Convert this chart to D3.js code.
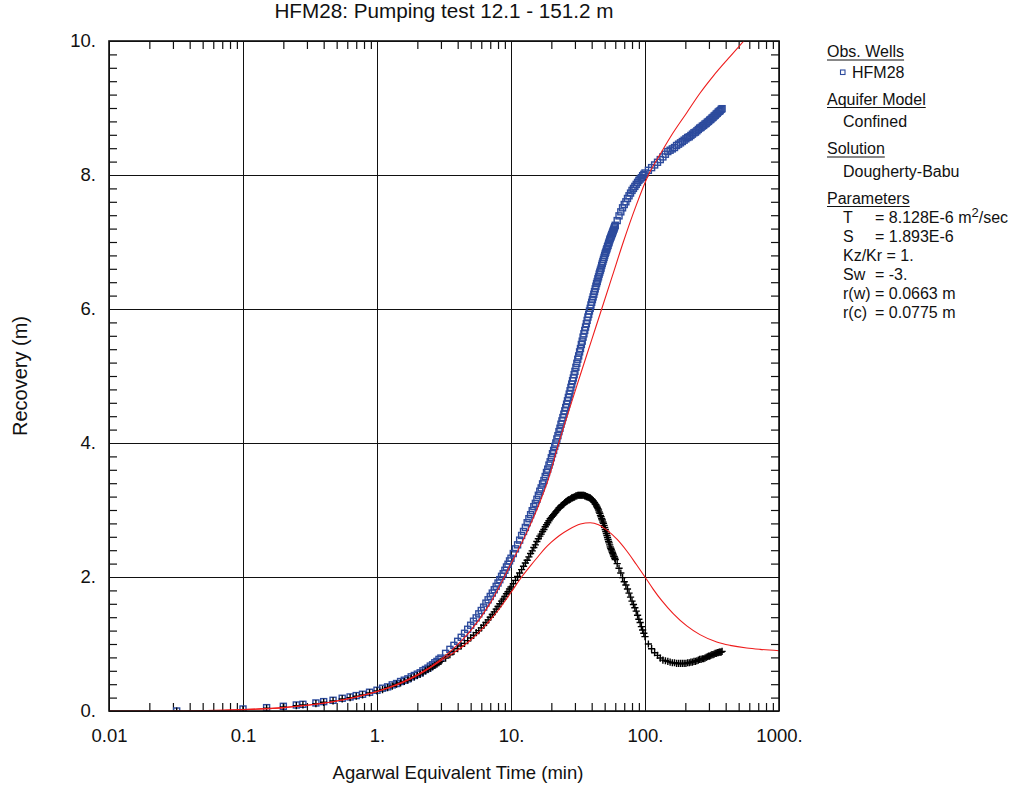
<!DOCTYPE html>
<html>
<head>
<meta charset="utf-8">
<script src="https://cdn.jsdelivr.net/npm/d3@7"></script>
<style>
  body { margin: 0; background: #fff; }
  svg { font-family: Arial, "Liberation Sans", sans-serif; }
</style>
</head>
<body>
<script>
// ---- data ----
// Agarwal equivalent time (min) of the observations
var obsTime = [0.032, 0.1, 0.15, 0.2, 0.25, 0.28, 0.35, 0.4, 0.47, 0.55, 0.63, 0.7, 0.78, 0.88,
  1.0, 1.1, 1.2, 1.3, 1.4, 1.5, 1.6, 1.7, 1.8, 1.9, 2.0, 2.1, 2.2, 2.3, 2.4, 2.5, 2.6, 2.7, 2.8, 2.9, 3.0,
  3.25, 3.5, 3.75, 4, 4.25, 4.5, 4.75, 5, 5.25, 5.5, 5.75, 6, 6.25, 6.5, 6.75, 7, 7.25, 7.5, 7.75, 8, 8.25, 8.5, 8.75, 9, 9.25, 9.5, 9.75, 10,
  10.4, 10.8, 11.2, 11.6, 12, 12.4, 12.8, 13.2, 13.6, 14, 14.4, 14.8, 15.2, 15.6, 16, 16.4, 16.8, 17.2, 17.6, 18, 18.4, 18.8, 19.2, 19.6, 20,
  20.4, 20.8, 21.2, 21.6, 22, 22.4, 22.8, 23.2, 23.6, 24, 24.4, 24.8, 25.2, 25.6, 26, 26.4, 26.8, 27.2, 27.6, 28, 28.4, 28.8, 29.2, 29.6, 30,
  30.5, 31, 31.5, 32, 32.5, 33, 33.5, 34, 34.5, 35, 35.5, 36, 36.5, 37, 37.5, 38, 38.5, 39, 39.5, 40,
  40.5, 41, 41.5, 42, 42.5, 43, 43.5, 44, 44.5, 45, 45.5, 46, 46.5, 47, 47.5, 48, 48.5, 49, 49.5, 50,
  50.5, 51, 51.5, 52, 52.5, 53, 53.5, 54, 54.5, 55, 55.5, 56, 56.5, 57, 57.5, 58, 58.5, 59, 59.5, 60,
  62, 64, 66, 68, 70, 72, 74, 76, 78, 80, 82, 84, 86, 88, 90, 92, 94, 96, 98, 100,
  106, 112, 118, 124, 130, 136, 142, 148, 154, 160, 166, 172, 178, 184, 190, 196, 202, 208, 214, 220, 226, 232, 238, 244, 250,
  256, 262, 268, 274, 280, 286, 292, 298, 304, 310, 316, 322, 328, 334, 340, 346, 352, 358, 364, 370, 376];

// HFM28 recovery (m) - blue squares
var hfm28Recovery = [0.00, 0.03, 0.05, 0.07, 0.09, 0.10, 0.12, 0.14, 0.16, 0.19, 0.21, 0.23, 0.25, 0.28,
  0.31, 0.34, 0.36, 0.39, 0.41, 0.44, 0.46, 0.48, 0.51, 0.53, 0.55, 0.57, 0.60, 0.62, 0.64, 0.67, 0.69, 0.72, 0.74, 0.77, 0.79,
  0.86, 0.92, 0.98, 1.04, 1.10, 1.16, 1.22, 1.28, 1.34, 1.39, 1.45, 1.50, 1.55, 1.61, 1.66, 1.71, 1.76, 1.81, 1.86, 1.91, 1.96, 2.01, 2.05, 2.10, 2.15, 2.19, 2.24, 2.28,
  2.35, 2.42, 2.48, 2.55, 2.62, 2.68, 2.74, 2.81, 2.87, 2.93, 2.99, 3.05, 3.10, 3.16, 3.22, 3.28, 3.33, 3.39, 3.44, 3.50, 3.56, 3.61, 3.67, 3.72, 3.78,
  3.84, 3.89, 3.95, 4.00, 4.06, 4.11, 4.17, 4.22, 4.28, 4.33, 4.38, 4.43, 4.48, 4.53, 4.58, 4.63, 4.68, 4.73, 4.78, 4.83, 4.88, 4.93, 4.97, 5.02, 5.07,
  5.13, 5.19, 5.25, 5.30, 5.36, 5.41, 5.47, 5.52, 5.58, 5.63, 5.68, 5.73, 5.78, 5.83, 5.88, 5.92, 5.97, 6.01, 6.06, 6.10,
  6.14, 6.18, 6.22, 6.26, 6.30, 6.34, 6.38, 6.41, 6.45, 6.48, 6.52, 6.55, 6.58, 6.61, 6.65, 6.68, 6.71, 6.74, 6.77, 6.80,
  6.83, 6.85, 6.88, 6.90, 6.93, 6.95, 6.98, 7.00, 7.03, 7.05, 7.07, 7.09, 7.11, 7.13, 7.15, 7.17, 7.19, 7.21, 7.23, 7.25,
  7.32, 7.39, 7.45, 7.51, 7.56, 7.60, 7.65, 7.69, 7.73, 7.77, 7.80, 7.83, 7.86, 7.89, 7.92, 7.94, 7.96, 7.99, 8.01, 8.03,
  8.07, 8.11, 8.15, 8.19, 8.23, 8.27, 8.31, 8.35, 8.37, 8.39, 8.41, 8.44, 8.46, 8.48, 8.50, 8.52, 8.54, 8.56, 8.57, 8.59, 8.61, 8.63, 8.64, 8.66, 8.68,
  8.70, 8.71, 8.73, 8.74, 8.76, 8.77, 8.79, 8.80, 8.82, 8.83, 8.85, 8.86, 8.88, 8.89, 8.91, 8.92, 8.94, 8.95, 8.96, 8.98, 8.99];

// derivative of the recovery - black crosses
var hfm28Deriv = [0.00, 0.02, 0.04, 0.06, 0.08, 0.09, 0.11, 0.13, 0.15, 0.18, 0.20, 0.22, 0.24, 0.27,
  0.30, 0.32, 0.35, 0.37, 0.40, 0.42, 0.44, 0.46, 0.49, 0.51, 0.53, 0.55, 0.57, 0.60, 0.62, 0.64, 0.66, 0.68, 0.70, 0.72, 0.74,
  0.79, 0.84, 0.89, 0.93, 0.97, 1.01, 1.05, 1.09, 1.13, 1.17, 1.20, 1.24, 1.28, 1.32, 1.36, 1.40, 1.44, 1.48, 1.52, 1.56, 1.60, 1.64, 1.67, 1.71, 1.75, 1.78, 1.82, 1.85,
  1.90, 1.95, 2.01, 2.06, 2.11, 2.16, 2.21, 2.25, 2.30, 2.35, 2.39, 2.44, 2.48, 2.53, 2.57, 2.61, 2.64, 2.68, 2.71, 2.75, 2.78, 2.81, 2.84, 2.87, 2.89,
  2.91, 2.93, 2.95, 2.97, 2.99, 3.01, 3.03, 3.04, 3.06, 3.07, 3.08, 3.09, 3.11, 3.12, 3.13, 3.14, 3.15, 3.15, 3.16, 3.17, 3.18, 3.18, 3.19, 3.19, 3.20,
  3.21, 3.21, 3.22, 3.22, 3.22, 3.22, 3.22, 3.22, 3.22, 3.22, 3.21, 3.21, 3.20, 3.20, 3.19, 3.19, 3.18, 3.18, 3.17, 3.16,
  3.15, 3.14, 3.12, 3.11, 3.09, 3.08, 3.06, 3.04, 3.02, 3.00, 2.97, 2.95, 2.92, 2.90, 2.87, 2.85, 2.82, 2.80, 2.77, 2.74,
  2.71, 2.68, 2.65, 2.62, 2.59, 2.56, 2.53, 2.51, 2.48, 2.45, 2.43, 2.41, 2.39, 2.37, 2.35, 2.33, 2.31, 2.30, 2.28, 2.26,
  2.20, 2.13, 2.06, 1.99, 1.93, 1.88, 1.82, 1.76, 1.70, 1.64, 1.59, 1.54, 1.49, 1.43, 1.37, 1.32, 1.26, 1.21, 1.16, 1.11,
  1.00, 0.93, 0.87, 0.83, 0.79, 0.76, 0.75, 0.74, 0.73, 0.72, 0.72, 0.71, 0.71, 0.71, 0.71, 0.71, 0.71, 0.72, 0.72, 0.73, 0.73, 0.74, 0.74, 0.75, 0.76,
  0.77, 0.77, 0.78, 0.78, 0.79, 0.80, 0.81, 0.82, 0.82, 0.83, 0.84, 0.84, 0.85, 0.86, 0.86, 0.87, 0.87, 0.88, 0.88, 0.88, 0.89];

// Dougherty-Babu model curve (recovery)
var modelTime = [0.01, 0.03, 0.05, 0.07, 0.1, 0.15, 0.2, 0.3, 0.5, 0.7, 1, 1.5, 2, 3, 4, 5, 7, 10, 13, 16, 19, 22.5,
  27, 32.7, 40, 47.5, 57, 68.9, 85, 106, 129, 154, 205, 257, 324, 419, 557, 1000];
var modelRecovery = [0, 0, 0.005, 0.01, 0.02, 0.035, 0.05, 0.085, 0.15, 0.21, 0.29, 0.42, 0.54, 0.77, 0.99, 1.2, 1.61, 2.2, 2.65, 3.06, 3.46, 3.97,
  4.48, 5.0, 5.54, 6.0, 6.49, 7.0, 7.52, 8.0, 8.3, 8.56, 8.93, 9.22, 9.48, 9.74, 10.02, 10.6];

// model derivative curve
var derivTime = [0.01, 0.03, 0.05, 0.07, 0.1, 0.15, 0.2, 0.3, 0.5, 0.7, 1, 1.5, 2, 3, 4, 5, 6, 7, 8, 10, 12, 14, 16, 18, 20, 23, 27,
  33, 39, 45, 52, 62, 73.6, 86, 100, 115, 133, 163, 205, 257, 343, 431, 574, 721, 1000];
var modelDeriv = [0, 0, 0.005, 0.01, 0.02, 0.035, 0.05, 0.085, 0.15, 0.21, 0.29, 0.41, 0.53, 0.75, 0.91, 1.06, 1.21, 1.36, 1.50, 1.77, 2.0, 2.17, 2.31, 2.43, 2.52, 2.62, 2.71,
  2.79, 2.81, 2.78, 2.70, 2.56, 2.38, 2.19, 2.00, 1.82, 1.65, 1.45, 1.27, 1.14, 1.03, 0.98, 0.94, 0.92, 0.90];

// axis ticks
var xMajor = [0.01, 0.1, 1, 10, 100, 1000];
var xTickLabels = ["0.01", "0.1", "1.", "10.", "100.", "1000."];
var yMajor = [0, 2, 4, 6, 8, 10];
var yTickLabels = ["0.", "2.", "4.", "6.", "8.", "10."];

// legend text
var paramNames = ["T", "S", "Kz/Kr = 1.", "Sw", "r(w)", "r(c)"];
var paramValues = ["= 8.128E-6 m", "= 1.893E-6", "", "= -3.", "= 0.0663 m", "= 0.0775 m"];

// ---- chart ----
var svgWidth = 1027;
var svgHeight = 787;
var margin = {top: 41, right: 248, bottom: 76, left: 109};
var width = svgWidth - margin.left - margin.right;
var height = svgHeight - margin.top - margin.bottom;

var svg = d3.select("body").append("svg")
  .attr("width", svgWidth)
  .attr("height", svgHeight);

var chartGroup = svg.append("g")
  .attr("transform", `translate(${margin.left}, ${margin.top})`);

var x = d3.scaleLog().domain([0.01, 1000]).range([0, width]);
var y = d3.scaleLinear().domain([0, 10]).range([height, 0]);

svg.append("defs").append("clipPath").attr("id", "plotClip")
  .append("rect").attr("width", width).attr("height", height);

// grid lines
chartGroup.append("g")
  .attr("class", "grid")
  .attr("transform", `translate(0, ${height})`)
  .call(d3.axisBottom(x).tickValues(xMajor).tickSize(-height).tickFormat(""));
chartGroup.append("g")
  .attr("class", "grid")
  .call(d3.axisLeft(y).tickValues(yMajor).tickSize(-width).tickFormat(""));

// minor ticks, pointing inward on all four sides
var xMinor = x.ticks().filter(d => xMajor.indexOf(d) < 0);
var yMinor = y.ticks(50).filter(d => yMajor.indexOf(d) < 0);
chartGroup.append("g").attr("class", "minor")
  .attr("transform", `translate(0, ${height})`)
  .call(d3.axisBottom(x).tickValues(xMinor).tickSize(-8).tickFormat(""));
chartGroup.append("g").attr("class", "minor")
  .call(d3.axisTop(x).tickValues(xMinor).tickSize(-8).tickFormat(""));
chartGroup.append("g").attr("class", "minor")
  .call(d3.axisLeft(y).tickValues(yMinor).tickSize(-8).tickFormat(""));
chartGroup.append("g").attr("class", "minor")
  .attr("transform", `translate(${width}, 0)`)
  .call(d3.axisRight(y).tickValues(yMinor).tickSize(-8).tickFormat(""));

chartGroup.selectAll(".grid .domain, .minor .domain").remove();
chartGroup.selectAll(".grid line").attr("stroke", "#111").attr("stroke-width", 1);
chartGroup.selectAll(".minor line").attr("stroke", "#111").attr("stroke-width", 1.2);

// tick labels
var bottomLabels = chartGroup.append("g")
  .attr("transform", `translate(0, ${height})`)
  .call(d3.axisBottom(x).tickValues(xMajor).tickSize(0).tickPadding(18)
    .tickFormat((d, i) => xTickLabels[i]));
var leftLabels = chartGroup.append("g")
  .call(d3.axisLeft(y).tickValues(yMajor).tickSize(0).tickPadding(13)
    .tickFormat((d, i) => yTickLabels[i]));
[bottomLabels, leftLabels].forEach(function(g) {
  g.select(".domain").remove();
  g.selectAll("text").attr("font-size", 18.5).attr("font-family", "Arial, 'Liberation Sans', sans-serif").attr("fill", "#111");
});

// data
var plot = chartGroup.append("g").attr("clip-path", "url(#plotClip)");

var obsData = obsTime.map((t, i) => ({t: t, s: hfm28Recovery[i], d: hfm28Deriv[i]}));

plot.selectAll("rect.obs")
  .data(obsData)
  .enter()
  .append("rect")
  .attr("class", "obs")
  .attr("x", d => x(d.t) - 3)
  .attr("y", d => y(d.s) - 3)
  .attr("width", 6)
  .attr("height", 6)
  .attr("fill", "none")
  .attr("stroke", "#2d4b9d")
  .attr("stroke-width", 1.4);

plot.selectAll("path.deriv")
  .data(obsData)
  .enter()
  .append("path")
  .attr("class", "deriv")
  .attr("transform", d => `translate(${x(d.t)}, ${y(d.d)})`)
  .attr("d", "M-3.6,0H3.6M0,-3.6V3.6")
  .attr("stroke", "#000")
  .attr("stroke-width", 1.4);

var line = d3.line()
  .x(d => x(d[0]))
  .y(d => y(d[1]))
  .curve(d3.curveMonotoneX);

plot.append("path")
  .datum(modelTime.map((t, i) => [t, modelRecovery[i]]))
  .attr("d", line)
  .attr("fill", "none")
  .attr("stroke", "#ee1c1c")
  .attr("stroke-width", 1.1);

plot.append("path")
  .datum(derivTime.map((t, i) => [t, modelDeriv[i]]))
  .attr("d", line)
  .attr("fill", "none")
  .attr("stroke", "#ee1c1c")
  .attr("stroke-width", 1.1);

// frame
chartGroup.append("rect")
  .attr("width", width)
  .attr("height", height)
  .attr("fill", "none")
  .attr("stroke", "#111")
  .attr("stroke-width", 1.6);

// titles
svg.append("text")
  .attr("x", margin.left + width / 2)
  .attr("y", 18)
  .attr("text-anchor", "middle")
  .attr("font-size", 20.7)
  .attr("fill", "#111")
  .text("HFM28: Pumping test 12.1 - 151.2 m");

svg.append("text")
  .attr("x", 458)
  .attr("y", 779)
  .attr("text-anchor", "middle")
  .attr("font-size", 18.5)
  .attr("fill", "#111")
  .text("Agarwal Equivalent Time (min)");

svg.append("text")
  .attr("transform", `translate(27, ${margin.top + height / 2}) rotate(-90)`)
  .attr("text-anchor", "middle")
  .attr("font-size", 20)
  .attr("fill", "#111")
  .text("Recovery (m)");

// legend
var legend = svg.append("g").attr("font-size", 16).attr("fill", "#111");

function header(txt, yb) {
  var t = legend.append("text").attr("x", 827).attr("y", yb).text(txt);
  var w = t.node().getComputedTextLength();
  legend.append("line")
    .attr("x1", 827).attr("x2", 827 + w)
    .attr("y1", yb + 3).attr("y2", yb + 3)
    .attr("stroke", "#111").attr("stroke-width", 1);
}

header("Obs. Wells", 57);
legend.append("rect")
  .attr("x", 840.5).attr("y", 70).attr("width", 4.5).attr("height", 4.5)
  .attr("fill", "none").attr("stroke", "#2d4b9d").attr("stroke-width", 1.1);
legend.append("text").attr("x", 852).attr("y", 78).text("HFM28");

header("Aquifer Model", 104.5);
legend.append("text").attr("x", 843).attr("y", 127).text("Confined");

header("Solution", 154);
legend.append("text").attr("x", 843).attr("y", 177).text("Dougherty-Babu");

header("Parameters", 203.5);
paramNames.forEach(function(name, i) {
  var yb = 222.5 + i * 19;
  legend.append("text").attr("x", 843).attr("y", yb).text(name);
  if (paramValues[i]) {
    var v = legend.append("text").attr("x", 875).attr("y", yb).text(paramValues[i]);
    if (name === "T") {
      v.append("tspan").attr("dy", -6).attr("font-size", 13).text("2");
      v.append("tspan").attr("dy", 6).text("/sec");
    }
  }
});
</script>
</body>
</html>
